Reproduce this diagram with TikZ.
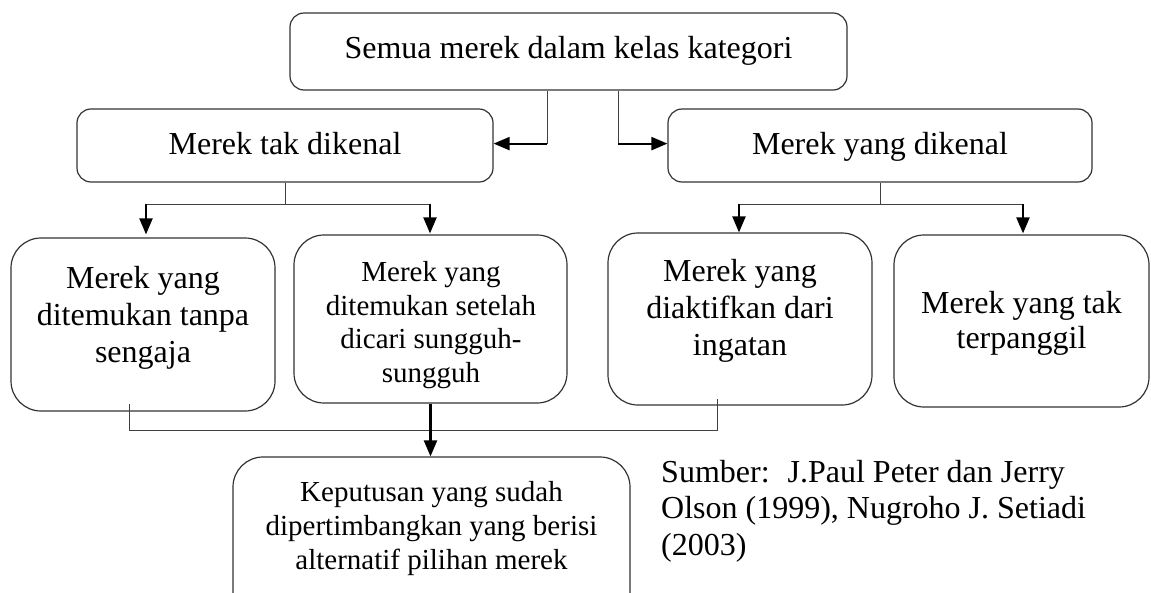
\documentclass[tikz,border=0pt]{standalone}
\usepackage{fontspec}
\setmainfont{Liberation Serif}
\usetikzlibrary{arrows.meta}
\begin{document}
\begin{tikzpicture}[x=1pt,y=-1pt,
  box/.style={draw=black!80,line width=1.2pt,rectangle,inner sep=0pt,rounded corners=#1},
  box/.default=14pt,
  lbl/.style={align=center,inner sep=0pt,font=\fontsize{32}{37}\selectfont},
  lblsm/.style={align=center,inner sep=0pt,font=\fontsize{29}{33.5}\selectfont},
  thinline/.style={draw=black!75,line width=1pt},
  arr/.style={draw=black,line width=2.2pt,-{Triangle[length=16pt,width=13pt]}},
]
\useasboundingbox (0,0) rectangle (1151,592);
\clip (0,0) rectangle (1151,592);

% boxes
\node[box, minimum width=557pt, minimum height=77pt] (top) at (568.5,51.5) {};
\node[box, minimum width=416pt, minimum height=73pt] (unk) at (285,145.5) {};
\node[box, minimum width=424pt, minimum height=73pt] (knw) at (880,145.5) {};
\node[box=30pt, minimum width=264pt, minimum height=173pt] (bA) at (143,324.5) {};
\node[box=30pt, minimum width=273pt, minimum height=168pt] (bB) at (430.5,319) {};
\node[box=30pt, minimum width=264pt, minimum height=172pt] (bC) at (740,319) {};
\node[box=30pt, minimum width=255pt, minimum height=172pt] (bD) at (1021.5,321) {};
\node[box=30pt, minimum width=397pt, minimum height=170pt] (bot) at (431.5,542) {};

% labels
\node[lbl, anchor=base] (tTop) at (568.5,58) {Semua merek dalam kelas kategori};
\node[lbl, anchor=base] (tUnk) at (285,154) {Merek tak dikenal};
\node[lbl, anchor=base] (tKnw) at (880,154) {Merek yang dikenal};
\node[lbl] (tA) at (143,318) {Merek yang\\ditemukan tanpa\\sengaja};
\node[lblsm] (tB) at (431,325) {Merek yang\\ditemukan setelah\\dicari sungguh-\\sungguh};
\node[lbl] (tC) at (740,311) {Merek yang\\diaktifkan dari\\ingatan};
\node[lbl, font=\fontsize{32}{35}\selectfont] (tD) at (1021.5,323) {Merek yang tak\\terpanggil};
\node[lblsm, font=\fontsize{29}{34}\selectfont] (tBot) at (431.5,529) {Keputusan yang sudah\\dipertimbangkan yang berisi\\alternatif pilihan merek};
\node[anchor=west, align=left, inner sep=0pt, font=\fontsize{32}{36.7}\selectfont] (src) at (661,511)
  {Sumber:\hspace{18pt}J.Paul Peter dan Jerry\\Olson (1999), Nugroho J. Setiadi\\(2003)};

% top split
\draw[thinline] ([xshift=-21.5pt]top.south) -- ++(0,53) coordinate (jl);
\draw[thinline] ([xshift=49.5pt]top.south) -- ++(0,53) coordinate (jr);
\draw[arr] (jl) -- (jl -| unk.east);
\draw[arr] (jr) -- (jr -| knw.west);

% second level splits
\coordinate (ja) at (146,204);
\coordinate (jb) at (430,204);
\coordinate (jc) at (739,204);
\coordinate (jd) at (1023,204);
\draw[thinline] (unk.south) -- (unk.south |- ja);
\draw[thinline] (knw.south) -- (knw.south |- jc);
\draw[thinline] (ja) -- (jb);
\draw[thinline] (jc) -- (jd);
\draw[arr, shorten >=3pt] (ja) -- (ja |- bA.north);
\draw[arr, shorten >=1pt] (jb) -- (jb |- bB.north);
\draw[arr] (jc) -- (jc |- bC.north);
\draw[arr, shorten >=1pt] (jd) -- (jd |- bD.north);

% bottom merge
\coordinate (ka) at ([xshift=-14pt,yshift=8pt]bA.south);
\coordinate (kc) at ([xshift=-23pt,yshift=7pt]bC.south);
\coordinate (kl) at (129,430);
\draw[thinline] (ka) -- (ka |- kl) -- (kc |- kl) -- (kc);
\draw[arr] (bB.south) -- (bB.south |- bot.north);
\end{tikzpicture}
\end{document}
